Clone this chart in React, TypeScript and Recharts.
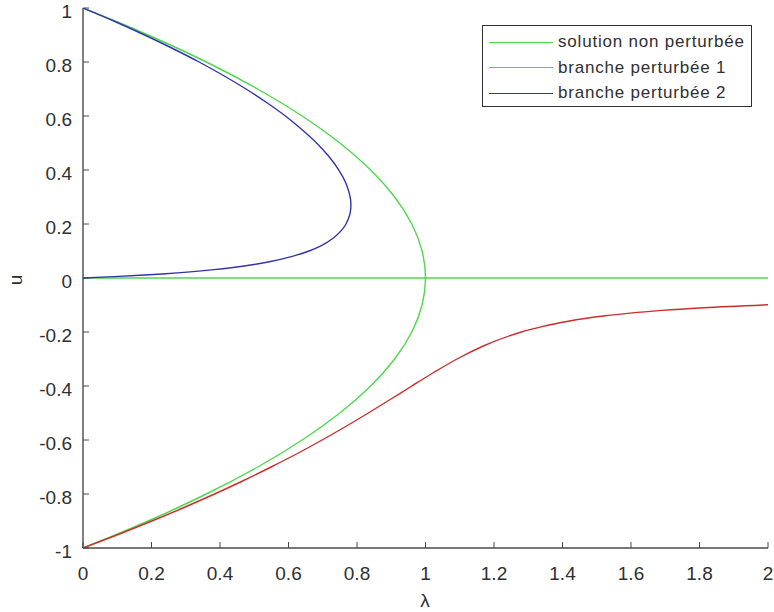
import { LineChart, Line, XAxis, YAxis } from "recharts";

// axis ticks
const lambdaTicks = [0, 0.2, 0.4, 0.6, 0.8, 1, 1.2, 1.4, 1.6, 1.8, 2];
const uTicks = [-1, -0.8, -0.6, -0.4, -0.2, 0, 0.2, 0.4, 0.6, 0.8, 1];

// solution non perturbée : u = 0
const zeroLam = [0, 2];
const zeroU = [0, 0];

// branche perturbée 1 (parabole)
const paraLam = [0, 0.0975, 0.19, 0.2775, 0.36, 0.51, 0.64, 0.75, 0.84, 0.91, 0.96, 0.99, 1, 0.99, 0.96, 0.91, 0.84, 0.75, 0.64, 0.51, 0.36, 0.2775, 0.19, 0.0975, 0];
const paraU = [1, 0.95, 0.9, 0.85, 0.8, 0.7, 0.6, 0.5, 0.4, 0.3, 0.2, 0.1, 0, -0.1, -0.2, -0.3, -0.4, -0.5, -0.6, -0.7, -0.8, -0.85, -0.9, -0.95, -1];

// branche perturbée 2 (bleue)
const blueLam = [0, 0.093, 0.18, 0.262, 0.339, 0.41, 0.476, 0.536, 0.591, 0.639, 0.682, 0.718, 0.747, 0.768, 0.776, 0.78, 0.782, 0.782, 0.781, 0.78, 0.775, 0.768, 0.757, 0.733, 0.696, 0.66, 0.611, 0.544, 0.499, 0.444, 0.375, 0.286, 0.231, 0.167, 0.091, 0];
const blueU = [1, 0.95, 0.9, 0.85, 0.8, 0.75, 0.7, 0.65, 0.6, 0.55, 0.5, 0.45, 0.4, 0.35, 0.32, 0.3, 0.28, 0.26, 0.25, 0.24, 0.22, 0.2, 0.18, 0.15, 0.12, 0.1, 0.08, 0.06, 0.05, 0.04, 0.03, 0.02, 0.015, 0.01, 0.005, 0];

// branche rouge (hors légende)
const redLam = [0, 0.103, 0.201, 0.295, 0.384, 0.469, 0.549, 0.626, 0.698, 0.767, 0.833, 0.897, 0.96, 1.024, 1.092, 1.172, 1.28, 1.34, 1.417, 1.525, 1.598, 1.69, 1.811, 2];
const redU = [-1, -0.95, -0.9, -0.85, -0.8, -0.75, -0.7, -0.65, -0.6, -0.55, -0.5, -0.45, -0.4, -0.35, -0.3, -0.25, -0.2, -0.18, -0.16, -0.14, -0.13, -0.12, -0.11, -0.0992];

const zip = (lam: number[], u: number[]) => lam.map((l, i) => ({ lam: l, u: u[i] }));

const GREEN = "#4cd84c";
const BLUE = "#3434aa";
const RED = "#d02c2c";
const AXIS = "#4a4a4a";
const TEXT = "#303030";
const FONT = '"Liberation Sans", Arial, Helvetica, sans-serif';

const legendItems = [
  { label: "solution non perturbée", color: GREEN },
  { label: "branche perturbée 1", color: GREEN },
  { label: "branche perturbée 2", color: BLUE },
];

function BottomTick({ x, y, payload }: any) {
  return (
    <g>
      <line x1={x} y1={y} x2={x} y2={y - 6} stroke={AXIS} />
      <text x={x} y={y + 32} textAnchor="middle" fontSize={19} fill={TEXT} fontFamily={FONT}>
        {String(payload.value)}
      </text>
    </g>
  );
}

function TopTick({ x, y }: any) {
  return <line x1={x} y1={y} x2={x} y2={y + 6} stroke={AXIS} />;
}

function LeftTick({ x, y, payload }: any) {
  return (
    <g>
      <line x1={x} y1={y} x2={x + 6} y2={y} stroke={AXIS} />
      <text x={x - 11} y={y + 10} textAnchor="end" fontSize={19} fill={TEXT} fontFamily={FONT}>
        {String(payload.value)}
      </text>
    </g>
  );
}

function RightTick({ x, y }: any) {
  return <line x1={x} y1={y} x2={x - 6} y2={y} stroke={AXIS} />;
}

export default function App() {
  const axisLine = { stroke: AXIS, strokeWidth: 1.4 };
  return (
    <div style={{ position: "absolute", left: 0, top: 0, width: 774, height: 612, background: "#fff", fontFamily: FONT }}>
      <LineChart width={774} height={612} margin={{ top: 8, right: 6, bottom: 0, left: 0 }}>
        <XAxis xAxisId="b" type="number" dataKey="lam" domain={[0, 2]} ticks={lambdaTicks} interval={0}
          height={64} tickSize={0} tickMargin={0} tickLine={false} tick={<BottomTick />} axisLine={axisLine} allowDataOverflow />
        <XAxis xAxisId="t" orientation="top" type="number" dataKey="lam" domain={[0, 2]} ticks={lambdaTicks} interval={0}
          height={0} tickSize={0} tickMargin={0} tickLine={false} tick={<TopTick />} axisLine={axisLine} allowDataOverflow />
        <YAxis yAxisId="l" type="number" dataKey="u" domain={[-1, 1]} ticks={uTicks} interval={0}
          width={83} tickSize={0} tickMargin={0} tickLine={false} tick={<LeftTick />} axisLine={axisLine} allowDataOverflow />
        <YAxis yAxisId="r" orientation="right" type="number" dataKey="u" domain={[-1, 1]} ticks={uTicks} interval={0}
          width={0} tickSize={0} tickMargin={0} tickLine={false} tick={<RightTick />} axisLine={axisLine} allowDataOverflow />

        <Line xAxisId="b" yAxisId="l" data={zip(zeroLam, zeroU)} dataKey="u" type="linear"
          stroke={GREEN} strokeWidth={1.4} dot={false} isAnimationActive={false} />
        <Line xAxisId="b" yAxisId="l" data={zip(paraLam, paraU)} dataKey="u" type="monotoneY"
          stroke={GREEN} strokeWidth={1.4} dot={false} isAnimationActive={false} />
        <Line xAxisId="b" yAxisId="l" data={zip(blueLam, blueU)} dataKey="u" type="monotoneY"
          stroke={BLUE} strokeWidth={1.4} dot={false} isAnimationActive={false} />
        <Line xAxisId="b" yAxisId="l" data={zip(redLam, redU)} dataKey="u" type="monotoneX"
          stroke={RED} strokeWidth={1.4} dot={false} isAnimationActive={false} />
      </LineChart>

      {/* axis labels */}
      <div style={{ position: "absolute", left: 16, top: 280, transform: "translate(-50%, -50%) rotate(-90deg)", fontSize: 19, color: TEXT }}>
        u
      </div>
      <div style={{ position: "absolute", left: 425, top: 601, transform: "translate(-50%, -50%)", fontSize: 19, color: TEXT }}>
        λ
      </div>

      {/* legend */}
      <div style={{ position: "absolute", left: 482, top: 25, width: 270, height: 82, border: `1px solid ${TEXT}`, background: "#fff", boxSizing: "border-box" }}>
        {legendItems.map((item, i) => (
          <div key={item.label} style={{ position: "absolute", left: 6, top: 5 + i * 25.5, height: 22, display: "flex", alignItems: "center", whiteSpace: "nowrap" }}>
            <div style={{ width: 64, height: 0, borderTop: `1.4px solid ${item.color}` }} />
            <span style={{ marginLeft: 5, fontSize: 17, letterSpacing: 0.8, color: TEXT }}>{item.label}</span>
          </div>
        ))}
      </div>
    </div>
  );
}
